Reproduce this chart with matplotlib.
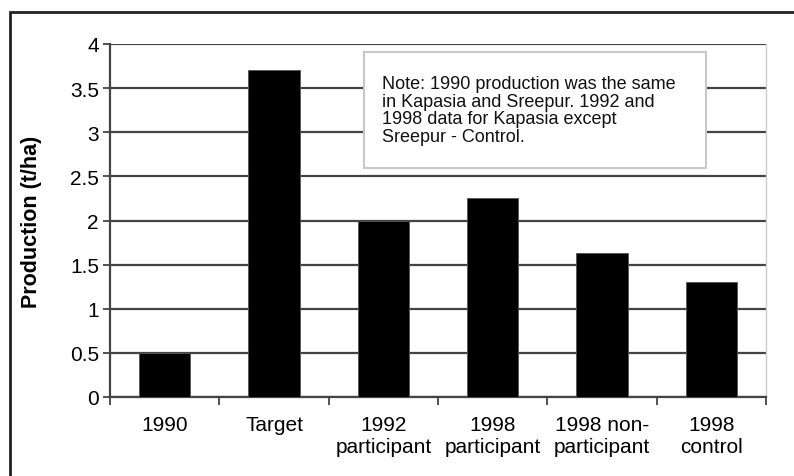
import matplotlib.pyplot as plt
from matplotlib.patches import Rectangle

plt.rcParams['font.family'] = ['Liberation Sans', 'DejaVu Sans']

categories = ['1990', 'Target', '1992\nparticipant', '1998\nparticipant',
              '1998 non-\nparticipant', '1998\ncontrol']
production = [0.5, 3.7, 2.0, 2.25, 1.63, 1.3]
y_ticks = [0, 0.5, 1, 1.5, 2, 2.5, 3, 3.5, 4]
y_labels = ['0', '0.5', '1', '1.5', '2', '2.5', '3', '3.5', '4']
note = ('Note: 1990 production was the same\nin Kapasia and Sreepur. 1992 and\n'
        '1998 data for Kapasia except\nSreepur - Control.')

W, H = 794, 477
fig = plt.figure(figsize=(W / 100, H / 100), dpi=100)
ax = fig.add_axes([110 / W, 1 - 398 / H, (766 - 110) / W, (398 - 45) / H])

x = list(range(len(categories)))
ax.bar(x, production, width=0.47, color='black', edgecolor='#555555',
       linewidth=0.6, zorder=3)

ax.set_xlim(-0.5, len(categories) - 0.5)
ax.set_ylim(0, 4)
ax.set_yticks(y_ticks)
ax.set_yticklabels(y_labels, fontsize=15)
ax.yaxis.grid(True, color='#444444', linewidth=1.6, zorder=1)
ax.set_xticks(x)
ax.set_xticklabels(categories, fontsize=15, linespacing=1.2)
ax.set_xticks([i - 0.5 for i in range(len(categories) + 1)], minor=True)
ax.tick_params(axis='x', which='major', length=0, pad=13)
ax.tick_params(axis='x', which='minor', length=6, width=1.3, color='#444444')
ax.tick_params(axis='y', length=5, width=1.3, color='#444444', pad=3)

for s in ['left', 'bottom']:
    ax.spines[s].set_color('#444444')
    ax.spines[s].set_linewidth(1.6)
ax.spines['top'].set_visible(False)
ax.spines['right'].set_color('#cccccc')
ax.spines['right'].set_linewidth(1)

ax.set_ylabel('Production (t/ha)', fontsize=15.5, fontweight='bold', labelpad=20)

# note box
ax.add_patch(Rectangle((0.387, 0.649), 0.522, 0.328, transform=ax.transAxes,
                       facecolor='white', edgecolor='#c8c8c8', linewidth=1.5,
                       zorder=4))
ax.text(0.415, 0.912, note, transform=ax.transAxes, fontsize=13, va='top',
        ha='left', linespacing=1.04, color='#111111', zorder=5)

# outer frame (runs off the right and bottom of the image)
fig.patches.append(Rectangle((10 / W, -0.2), 1.2, 1.2 - 13 / H,
                             transform=fig.transFigure, fill=False,
                             edgecolor='#222222', linewidth=2))

fig.savefig('out.png', dpi=100)
